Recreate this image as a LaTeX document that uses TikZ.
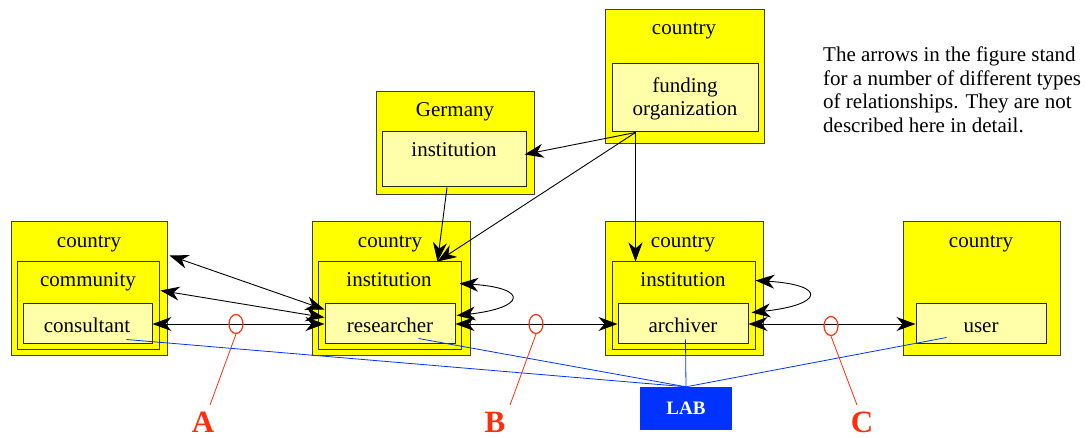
\documentclass[tikz,border=0pt]{standalone}
\usepackage{fontspec}
\setmainfont{Liberation Serif}
\usetikzlibrary{arrows.meta,fit,shapes.geometric,calc}
\definecolor{ybox}{RGB}{255,255,0}
\definecolor{lbox}{RGB}{255,255,170}
\definecolor{rred}{RGB}{255,45,10}
\definecolor{bblue}{RGB}{0,51,255}
\begin{document}
\begin{tikzpicture}[x=1pt,y=-1pt,
  outerbox/.style={draw=black!75, fill=ybox, line width=1pt, inner sep=0pt},
  innerbox/.style={draw=black!80, fill=ybox, line width=1pt, inner sep=0pt},
  leafbox/.style={draw=black!85, fill=lbox, line width=1pt, inner sep=0pt},
  lbl/.style={font=\fontsize{21}{24}\selectfont, inner sep=0pt, anchor=base},
  arr/.style={line width=0.9pt, -{Stealth[length=19pt,width=14pt,inset=6pt]}},
  darr/.style={line width=0.9pt, {Stealth[length=19pt,width=14pt,inset=6pt]}-{Stealth[length=19pt,width=14pt,inset=6pt]}},
  oval/.style={ellipse, draw=rred, line width=1.2pt, minimum width=14pt, minimum height=19pt, inner sep=0pt},
  redline/.style={draw=rred, line width=0.8pt},
  blueline/.style={draw=bblue, line width=0.8pt},
  letter/.style={font=\fontsize{31}{34}\selectfont\bfseries, text=rred, inner sep=0pt, anchor=base}
]
\useasboundingbox (0,0) rectangle (1088,438);

% ---- left group: country / community / consultant
\node[outerbox, fit={(11,222)(167,356)}] (cA) {};
\node[innerbox, fit={(17,262)(159,350)}] (iA) {};
\node[leafbox, fit={(23,304)(152,344)}] (lC) {};
\node[lbl] (tcA) at (89,248) {country};
\node[lbl] (tiA) at (88,287) {community};
\node[lbl] (tlC) at (87,333) {consultant};

% ---- researcher group
\node[outerbox, fit={(312,222)(470,356)}] (cR) {};
\node[innerbox, fit={(318,262)(461,350)}] (iR) {};
\node[leafbox, fit={(325,304)(455,344)}] (rR) {};
\node[lbl] (tcR) at (390,248) {country};
\node[lbl] (tiR) at (389,287) {institution};
\node[lbl] (trR) at (390,333) {researcher};

% ---- archiver group
\node[outerbox, fit={(605,222)(763,356)}] (cV) {};
\node[innerbox, fit={(612,262)(755,350)}] (iV) {};
\node[leafbox, fit={(618,304)(748,344)}] (lV) {};
\node[lbl] (tcV) at (683,248) {country};
\node[lbl] (tiV) at (683,287) {institution};
\node[lbl] (tlV) at (683,333) {archiver};

% ---- user group
\node[outerbox, fit={(903,222)(1060,356)}] (cU) {};
\node[leafbox, fit={(916,304)(1046,344)}] (lU) {};
\node[lbl] (tcU) at (981,248) {country};
\node[lbl] (tlU) at (981,333) {user};

% ---- Germany group
\node[outerbox, fit={(376,92)(534,195)}] (cG) {};
\node[leafbox, fit={(382,132)(526,187)}] (lG) {};
\node[lbl] (tcG) at (455,117) {Germany};
\node[lbl] (tlG) at (454,157) {institution};

% ---- funding group
\node[outerbox, fit={(605,10)(764,144)}] (cF) {};
\node[leafbox, fit={(612,64)(758,132)}] (lF) {};
\node[lbl] (tcF) at (684,35) {country};
\node[lbl] (tlF1) at (685,93) {funding};
\node[lbl] (tlF2) at (685,116) {organization};

% ---- note
\node[font=\fontsize{21}{23.7}\selectfont, align=left, anchor=north west, inner sep=0pt] (note) at (823,46.5)
  {The arrows in the figure stand\\for a number of different types\\of relationships. They are not\\described here in detail.};

% ---- LAB
\node[fill=bblue, fit={(640,387)(732,430)}, inner sep=0pt] (lab) {};
\node[font=\fontsize{19}{22}\selectfont\bfseries, text=white, inner sep=0pt] (labt) at (lab.center) {LAB};

% ---- blue lines
\draw[blueline] ([xshift=104pt,yshift=-36pt]lC.north west) -- (lab.north);
\draw[blueline] ([xshift=94pt,yshift=-35pt]rR.north west) -- (lab.north);
\draw[blueline] ([xshift=68pt,yshift=-36pt]lV.north west) -- (lab.north);
\draw[blueline] ([xshift=31pt,yshift=-34pt]lU.north west) -- (lab.north);

% ---- black arrows
\draw[darr] ([xshift=2pt,yshift=-34pt]cA.north east) -- ([yshift=-6pt]rR.north west);
\draw[darr] ([xshift=1pt,yshift=-29pt]iA.north east) -- ([yshift=-14pt]rR.north west);
\draw[darr] (lC.east) -- (rR.west);
\draw[darr] ([xshift=-2pt,yshift=-22pt]iR.north east) .. controls (530,288) and (525,308) .. ([xshift=1pt,yshift=-12pt]rR.north east);
\draw[darr] (rR.east) -- (lV.west);
\draw[darr] ([yshift=-19pt]iV.north east) .. controls (828,285) and (823,305) .. ([xshift=3pt,yshift=-9pt]lV.north east);
\draw[darr] (lV.east) -- (lU.west);

\coordinate (fo) at ([xshift=24pt]lF.south west);
\draw[arr] (fo) -- ([xshift=-2pt,yshift=-23pt]lG.north east);
\draw[arr] (fo) -- ([xshift=48pt]iR.north);
\draw[arr] (fo) -- ([xshift=24pt]iV.north west);
\draw[arr] ([xshift=-7pt]lG.south) -- ([xshift=48pt]iR.north);

% ---- red markers
\node[oval] (eA) at (236,324) {};
\node[oval] (eB) at (536,324) {};
\node[oval] (eC) at (831,326) {};
\coordinate (pA) at (210,405);
\coordinate (pB) at (510,405);
\coordinate (pC) at (857,405);
\draw[redline] (eA.south) -- (pA);
\draw[redline] (eB.south) -- (pB);
\draw[redline] (eC.south) -- (pC);
\node[letter] (A) at (203,432) {A};
\node[letter] (B) at (495,432) {B};
\node[letter] (C) at (862,432) {C};
\end{tikzpicture}
\end{document}
